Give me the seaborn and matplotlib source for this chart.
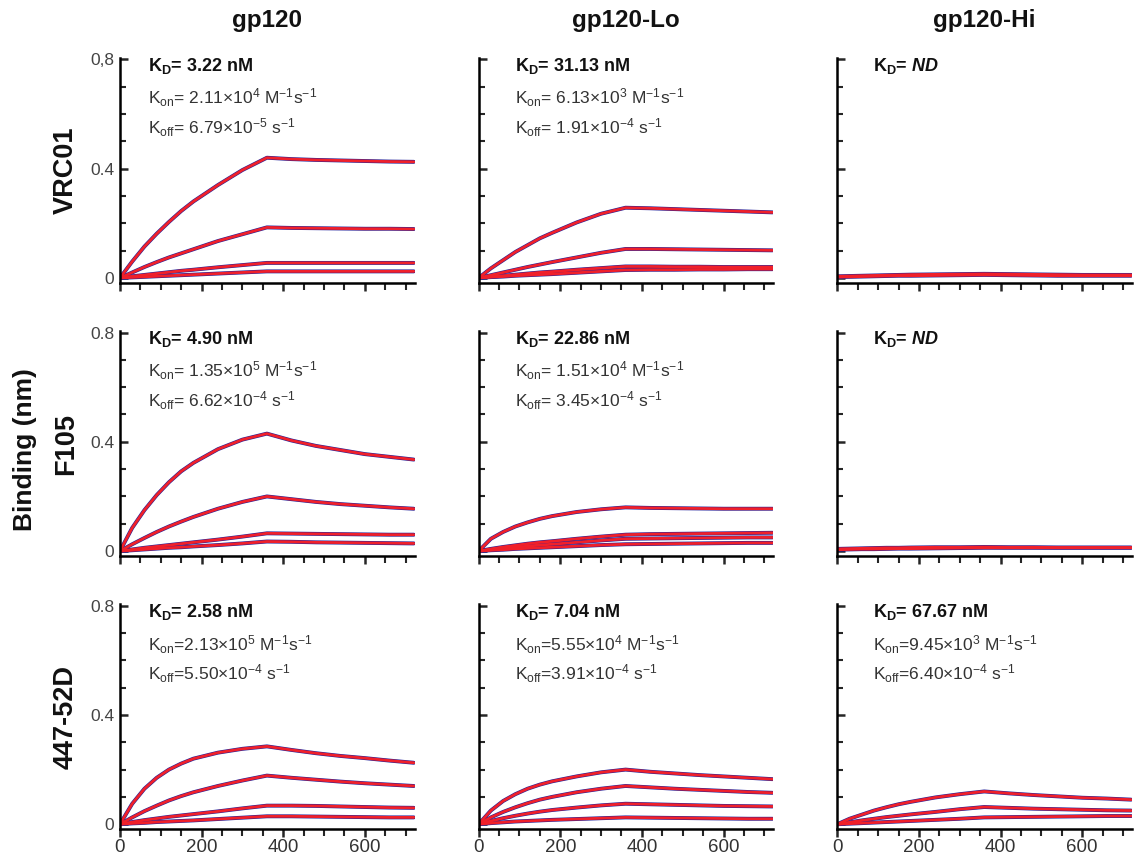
import matplotlib
matplotlib.use('Agg')
import matplotlib.pyplot as plt
import matplotlib.ticker as mtick
import pandas as pd
import seaborn as sns

# tempo (s) amostrado nas curvas
tempo = [0, 30, 60, 90, 120, 150, 180, 240, 300, 360, 420, 480, 540, 600, 660, 720]

linhas = ['VRC01', 'F105', '447-52D']
colunas = ['gp120', 'gp120-Lo', 'gp120-Hi']

# respostas (nm), uma lista por concentracao
vrc01_gp120 = [
    [0, 0.06, 0.115, 0.162, 0.205, 0.245, 0.28, 0.34, 0.395, 0.44, 0.435, 0.432, 0.43, 0.428, 0.426, 0.425],
    [0, 0.02, 0.04, 0.058, 0.075, 0.09, 0.105, 0.135, 0.16, 0.185, 0.183, 0.182, 0.181, 0.18, 0.18, 0.179],
    [0, 0.006, 0.011, 0.016, 0.021, 0.026, 0.03, 0.039, 0.047, 0.055, 0.055, 0.055, 0.055, 0.055, 0.055, 0.055],
    [0, 0.002, 0.004, 0.006, 0.008, 0.01, 0.012, 0.016, 0.02, 0.024, 0.024, 0.024, 0.024, 0.024, 0.024, 0.024],
]
vrc01_lo = [
    [0, 0.035, 0.065, 0.095, 0.12, 0.145, 0.165, 0.203, 0.235, 0.257, 0.255, 0.252, 0.249, 0.246, 0.243, 0.24],
    [0, 0.01, 0.02, 0.03, 0.04, 0.049, 0.058, 0.075, 0.092, 0.106, 0.106, 0.105, 0.104, 0.103, 0.102, 0.101],
    [0, 0.004, 0.008, 0.012, 0.016, 0.02, 0.023, 0.03, 0.036, 0.042, 0.042, 0.041, 0.041, 0.04, 0.04, 0.04],
    [0, 0.003, 0.005, 0.008, 0.01, 0.012, 0.014, 0.019, 0.024, 0.029, 0.03, 0.03, 0.031, 0.031, 0.032, 0.032],
]
vrc01_hi = [
    [0.006, 0.007, 0.008, 0.009, 0.01, 0.011, 0.012, 0.013, 0.014, 0.015, 0.014, 0.013, 0.012, 0.011, 0.011, 0.011],
    [0.003, 0.004, 0.005, 0.006, 0.007, 0.008, 0.008, 0.009, 0.01, 0.011, 0.01, 0.009, 0.008, 0.008, 0.008, 0.008],
]
f105_gp120 = [
    [0, 0.085, 0.15, 0.205, 0.252, 0.292, 0.323, 0.373, 0.408, 0.43, 0.405, 0.385, 0.37, 0.355, 0.345, 0.335],
    [0, 0.025, 0.048, 0.07, 0.09, 0.108, 0.125, 0.155, 0.18, 0.2, 0.19, 0.18, 0.172, 0.166, 0.16, 0.155],
    [0, 0.006, 0.012, 0.017, 0.022, 0.027, 0.032, 0.042, 0.053, 0.065, 0.064, 0.063, 0.062, 0.061, 0.06, 0.06],
    [0, 0.003, 0.006, 0.009, 0.012, 0.014, 0.017, 0.022, 0.028, 0.035, 0.034, 0.032, 0.031, 0.03, 0.029, 0.028],
]
f105_lo = [
    [0, 0.045, 0.07, 0.09, 0.105, 0.118, 0.128, 0.143, 0.153, 0.16, 0.158, 0.157, 0.156, 0.155, 0.155, 0.155],
    [0, 0.008, 0.015, 0.021, 0.027, 0.032, 0.036, 0.045, 0.053, 0.06, 0.062, 0.063, 0.064, 0.065, 0.066, 0.067],
    [0, 0.005, 0.01, 0.014, 0.018, 0.022, 0.025, 0.032, 0.039, 0.045, 0.046, 0.047, 0.048, 0.049, 0.05, 0.05],
    [0, 0.003, 0.005, 0.008, 0.01, 0.012, 0.014, 0.018, 0.022, 0.025, 0.026, 0.027, 0.028, 0.029, 0.03, 0.03],
]
f105_hi = [
    [0.008, 0.009, 0.01, 0.011, 0.012, 0.012, 0.013, 0.014, 0.014, 0.015, 0.014, 0.014, 0.013, 0.013, 0.013, 0.013],
    [0.005, 0.006, 0.007, 0.007, 0.008, 0.009, 0.009, 0.01, 0.011, 0.012, 0.012, 0.012, 0.012, 0.012, 0.012, 0.012],
]
d447_gp120 = [
    [0, 0.075, 0.13, 0.17, 0.2, 0.222, 0.24, 0.262, 0.276, 0.285, 0.272, 0.26, 0.25, 0.242, 0.233, 0.225],
    [0, 0.025, 0.048, 0.068, 0.087, 0.103, 0.117, 0.14, 0.16, 0.178, 0.17, 0.163, 0.156, 0.15, 0.145, 0.14],
    [0, 0.008, 0.015, 0.021, 0.027, 0.032, 0.037, 0.047, 0.058, 0.068, 0.068, 0.067, 0.065, 0.063, 0.061, 0.06],
    [0, 0.003, 0.005, 0.008, 0.01, 0.012, 0.014, 0.019, 0.024, 0.029, 0.029, 0.028, 0.027, 0.026, 0.025, 0.025],
]
d447_lo = [
    [0, 0.05, 0.085, 0.11, 0.13, 0.145, 0.157, 0.175, 0.19, 0.2, 0.192, 0.186, 0.18, 0.175, 0.17, 0.165],
    [0, 0.025, 0.045, 0.062, 0.077, 0.09, 0.1, 0.117, 0.13, 0.14, 0.135, 0.13, 0.126, 0.122, 0.118, 0.115],
    [0, 0.012, 0.022, 0.031, 0.039, 0.046, 0.052, 0.061, 0.069, 0.075, 0.073, 0.071, 0.069, 0.067, 0.066, 0.065],
    [0, 0.004, 0.007, 0.01, 0.012, 0.014, 0.016, 0.019, 0.022, 0.025, 0.024, 0.023, 0.022, 0.021, 0.02, 0.02],
]
d447_hi = [
    [0, 0.02, 0.035, 0.05, 0.062, 0.073, 0.082, 0.098, 0.11, 0.12, 0.113, 0.107, 0.102, 0.097, 0.094, 0.09],
    [0, 0.007, 0.014, 0.02, 0.026, 0.031, 0.036, 0.045, 0.055, 0.063, 0.06, 0.057, 0.055, 0.053, 0.051, 0.05],
    [0, 0.002, 0.004, 0.006, 0.008, 0.01, 0.012, 0.016, 0.02, 0.025, 0.026, 0.027, 0.028, 0.029, 0.03, 0.03],
]
paineis = [
    [vrc01_gp120, vrc01_lo, vrc01_hi],
    [f105_gp120, f105_lo, f105_hi],
    [d447_gp120, d447_lo, d447_hi],
]

# constantes cineticas (None = nao mostrado)
kd_textos = [
    ['3.22 nM', '31.13 nM', 'ND'],
    ['4.90 nM', '22.86 nM', 'ND'],
    ['2.58 nM', '7.04 nM', '67.67 nM'],
]
kon_textos = [
    [('= 2.11', '4'), ('= 6.13', '3'), None],
    [('= 1.35', '5'), ('= 1.51', '4'), None],
    [('=2.13', '5'), ('=5.55', '4'), ('=9.45', '3')],
]
koff_textos = [
    [('= 6.79', '-5'), ('= 1.91', '-4'), None],
    [('= 6.62', '-4'), ('= 3.45', '-4'), None],
    [('=5.50', '-4'), ('=3.91', '-4'), ('=6.40', '-4')],
]

sns.set_style('ticks')
plt.rcParams['font.family'] = ['Liberation Sans', 'DejaVu Sans']
plt.rcParams['mathtext.fontset'] = 'custom'
plt.rcParams['mathtext.rm'] = 'Liberation Sans'
plt.rcParams['mathtext.it'] = 'Liberation Sans:italic'
plt.rcParams['mathtext.bf'] = 'Liberation Sans:bold'
plt.rcParams['mathtext.bfit'] = 'Liberation Sans:bold:italic'

fig, axes = plt.subplots(3, 3, figsize=(11.37, 8.61), dpi=100)
plt.subplots_adjust(left=0.1055, right=0.9956, bottom=0.037, top=0.9326,
                    wspace=0.217, hspace=0.215)

cor_texto = '#333333'
for i in range(3):
    for j in range(3):
        ax = axes[i, j]
        registros = []
        for k, curva in enumerate(paineis[i][j]):
            for t, v in zip(tempo, curva):
                registros.append({'tempo': t, 'binding': v, 'curva': k})
        df = pd.DataFrame(registros)

        # dados (azul) por baixo do ajuste (vermelho)
        sns.lineplot(data=df, x='tempo', y='binding', units='curva', estimator=None,
                     color='#22229a', linewidth=2.8, ax=ax)
        sns.lineplot(data=df, x='tempo', y='binding', units='curva', estimator=None,
                     color='#f0202a', linewidth=2.0, ax=ax)

        ax.set_xlim(0, 722)
        ax.set_ylim(-0.018, 0.805)
        ax.set_xlabel('')
        ax.set_ylabel('')
        for lado in ['top', 'right']:
            ax.spines[lado].set_visible(False)
        for lado in ['left', 'bottom']:
            ax.spines[lado].set_linewidth(1.8)
            ax.spines[lado].set_color('black')

        ax.xaxis.set_major_locator(mtick.MultipleLocator(200))
        ax.xaxis.set_minor_locator(mtick.MultipleLocator(50))
        ax.yaxis.set_major_locator(mtick.FixedLocator([0, 0.4, 0.8]))
        ax.yaxis.set_minor_locator(mtick.MultipleLocator(0.1))
        ax.tick_params(axis='x', which='major', direction='out', length=6, width=1.8,
                       labelsize=13.5, labelcolor=cor_texto, pad=1)
        ax.tick_params(axis='x', which='minor', direction='out', length=5, width=1.5)
        ax.tick_params(axis='y', which='major', direction='in', length=6, width=1.8,
                       labelsize=12.5, labelcolor='#444444', pad=4)
        ax.tick_params(axis='y', which='minor', direction='in', length=4, width=1.5)

        if j == 0:
            if i == 0:
                ax.set_yticklabels(['0', '0.4', '0,8'])
            else:
                ax.set_yticklabels(['0', '0.4', '0.8'])
        else:
            ax.set_yticklabels([])
        if i < 2:
            ax.set_xticklabels([])

        # anotacoes cineticas
        x0 = 0.095 if j == 0 else 0.122
        kd = kd_textos[i][j]
        if kd == 'ND':
            linha_kd = r'$\mathbf{K_D}$= $\mathbfit{ND}$'
        else:
            linha_kd = r'$\mathbf{K_D}$= ' + kd
        ax.text(x0, 0.965, linha_kd, transform=ax.transAxes, fontsize=13,
                fontweight='bold', color='#111111', va='center', ha='left')
        kon = kon_textos[i][j]
        if kon is not None:
            ax.text(x0, 0.822,
                    r'K$_{\rm on}$' + kon[0] + r'$\times$10$^{' + kon[1] + r'}$ M$^{-1}$s$^{-1}$',
                    transform=ax.transAxes, fontsize=12.5, color=cor_texto,
                    va='center', ha='left')
        koff = koff_textos[i][j]
        if koff is not None:
            ax.text(x0, 0.69,
                    r'K$_{\rm off}$' + koff[0] + r'$\times$10$^{' + koff[1] + r'}$ s$^{-1}$',
                    transform=ax.transAxes, fontsize=12.5, color=cor_texto,
                    va='center', ha='left')

# titulos das colunas e linhas
for j, nome in enumerate(colunas):
    pos = axes[0, j].get_position()
    fig.text((pos.x0 + pos.x1) / 2, 0.976, nome, ha='center', va='center',
             fontsize=17.5, fontweight='bold', color='#111111')
for i, nome in enumerate(linhas):
    pos = axes[i, 0].get_position()
    fig.text(0.058, (pos.y0 + pos.y1) / 2, nome, ha='center', va='center',
             rotation=90, fontsize=19.5, fontweight='bold', color='#111111')
fig.text(0.022, 0.478, 'Binding (nm)', ha='center', va='center', rotation=90,
         fontsize=19, fontweight='bold', color='#111111')

plt.savefig('out.png', dpi=100)
